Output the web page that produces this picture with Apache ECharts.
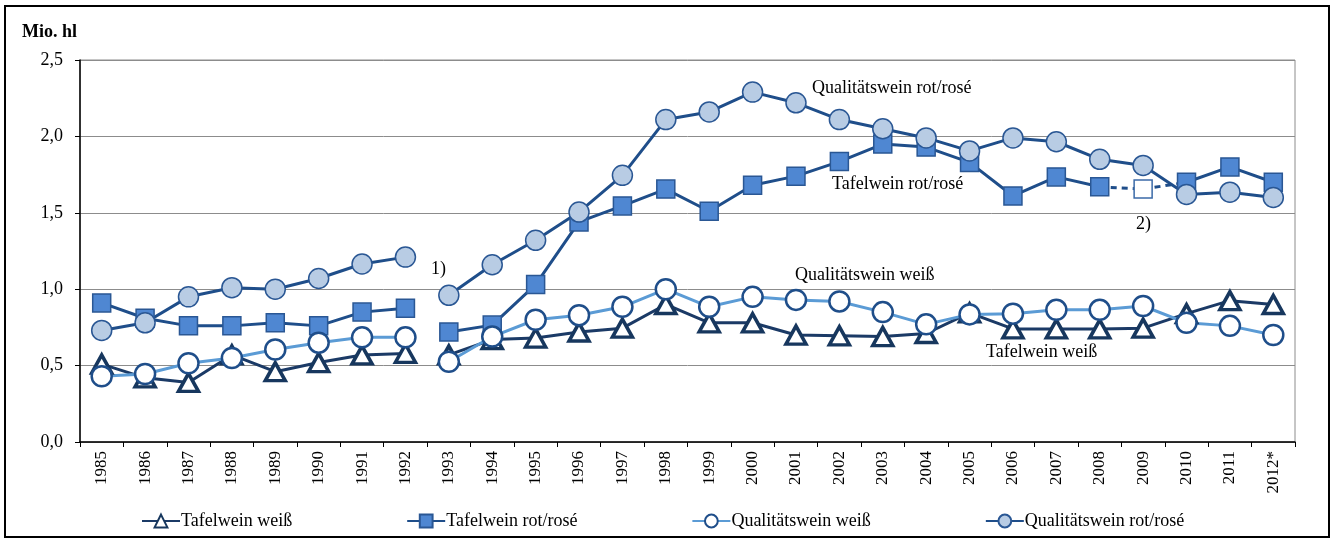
<!DOCTYPE html>
<html>
<head>
<meta charset="utf-8">
<script src="https://cdn.jsdelivr.net/npm/echarts@6/dist/echarts.min.js"></script>
<style>
  html, body { margin: 0; padding: 0; background: #fff; }
  #chart { width: 1333px; height: 541px; }
</style>
</head>
<body>
<div id="chart"></div>
<script>
// Jahre (1993: Bruch in der Reihe, 2012 vorläufig)
const years = ['1985','1986','1987','1988','1989','1990','1991','1992','1993','1994','1995','1996','1997','1998',
  '1999','2000','2001','2002','2003','2004','2005','2006','2007','2008','2009','2010','2011','2012*'];

const tafelWeiss = [0.51, 0.42, 0.39, 0.57, 0.46, 0.52, 0.57, 0.58, 0.57, 0.67, 0.68, 0.72, 0.745, 0.90,
  0.78, 0.78, 0.70, 0.695, 0.69, 0.71, 0.845, 0.74, 0.74, 0.74, 0.745, 0.84, 0.925, 0.90];
const tafelRot = [0.91, 0.81, 0.76, 0.76, 0.78, 0.76, 0.85, 0.875, 0.72, 0.765, 1.03, 1.44, 1.545, 1.655,
  1.51, 1.68, 1.74, 1.835, 1.95, 1.93, 1.83, 1.61, 1.735, 1.67, 1.655, 1.70, 1.80, 1.70];
const qualWeiss = [0.43, 0.445, 0.515, 0.55, 0.605, 0.65, 0.685, 0.685, 0.525, 0.69, 0.80, 0.83, 0.885, 1.0,
  0.885, 0.95, 0.93, 0.92, 0.85, 0.77, 0.835, 0.84, 0.865, 0.865, 0.89, 0.78, 0.76, 0.70];
const qualRot = [0.73, 0.78, 0.95, 1.01, 1.0, 1.07, 1.165, 1.21, 0.96, 1.16, 1.32, 1.505, 1.745, 2.11,
  2.16, 2.29, 2.22, 2.11, 2.05, 1.99, 1.905, 1.99, 1.965, 1.85, 1.81, 1.62, 1.635, 1.60];

const yTicks = [0, 0.5, 1.0, 1.5, 2.0, 2.5];

const serif = 'Liberation Serif';
const dark = '#1F4E8A';

// Teilstück einer Reihe (Lücke zwischen 1992 und 1993)
function seg(arr, from, to, skip) {
  return arr.map((v, i) => (i >= from && i <= to && i !== skip) ? v : '-');
}

const styles = {
  'Tafelwein weiß': {
    symbol: 'triangle', symbolSize: [20, 18],
    lineStyle: { color: '#1B3A66', width: 3 },
    itemStyle: { color: '#fff', borderColor: '#17375E', borderWidth: 3.5 }
  },
  'Tafelwein rot/rosé': {
    symbol: 'rect', symbolSize: 18,
    lineStyle: { color: dark, width: 3 },
    itemStyle: { color: '#4F87D2', borderColor: '#2A5794', borderWidth: 1.5 }
  },
  'Qualitätswein weiß': {
    symbol: 'circle', symbolSize: 20,
    lineStyle: { color: '#5B9BD5', width: 3 },
    itemStyle: { color: '#fff', borderColor: '#1F4E8A', borderWidth: 2.5 }
  },
  'Qualitätswein rot/rosé': {
    symbol: 'circle', symbolSize: 20,
    lineStyle: { color: dark, width: 3 },
    itemStyle: { color: '#B8CCE4', borderColor: '#2A5794', borderWidth: 1.5 }
  }
};

function line(name, data, extra) {
  return Object.assign({
    name: name, type: 'line', data: data, showAllSymbol: true,
    animation: false, connectNulls: false
  }, styles[name], extra || {});
}

const series = [
  // gestrichelte Verbindung 2008-2010 (Tafelwein rot/rosé, Anm. 2)
  {
    name: '2)', type: 'line', animation: false, z: 1,
    data: years.map((y, i) => {
      if (i === 23 || i === 25) return { value: tafelRot[i], symbol: 'none' };
      if (i === 24) return { value: tafelRot[i] };
      return '-';
    }),
    symbol: 'rect', symbolSize: 18,
    lineStyle: { color: dark, width: 3, type: [6, 5] },
    itemStyle: { color: '#fff', borderColor: '#3B6AA8', borderWidth: 1.5 }
  },
  line('Tafelwein weiß', seg(tafelWeiss, 0, 7)),
  line('Tafelwein weiß', seg(tafelWeiss, 8, 27)),
  line('Tafelwein rot/rosé', seg(tafelRot, 0, 7)),
  line('Tafelwein rot/rosé', seg(tafelRot, 8, 27, 24)),
  line('Qualitätswein weiß', seg(qualWeiss, 0, 7)),
  line('Qualitätswein weiß', seg(qualWeiss, 8, 27)),
  line('Qualitätswein rot/rosé', seg(qualRot, 0, 7)),
  line('Qualitätswein rot/rosé', seg(qualRot, 8, 27))
];

const note = (text, x, y) => ({
  type: 'text', left: x, top: y,
  style: { text: text, font: '18px "' + serif + '"', fill: '#000' }
});

const chart = echarts.init(document.getElementById('chart'));
chart.setOption({
  animation: false,
  textStyle: { fontFamily: serif },
  grid: { left: 80, right: 38, top: 60, bottom: 99, show: true, borderColor: '#8C8C8C', borderWidth: 1 },
  legend: {
    data: ['Tafelwein weiß', 'Tafelwein rot/rosé', 'Qualitätswein weiß', 'Qualitätswein rot/rosé'],
    left: 136, top: 507, itemGap: 114, itemWidth: 38, itemHeight: 16,
    textStyle: { fontFamily: serif, fontSize: 18, color: '#000', padding: [0, 0, 0, -4] },
    selectedMode: false
  },
  xAxis: {
    type: 'category', data: years, boundaryGap: true,
    axisLine: { lineStyle: { color: '#000', width: 1.5 } },
    axisTick: { show: true, length: 5, lineStyle: { color: '#000' } },
    axisLabel: { rotate: 90, interval: 0, fontFamily: serif, fontSize: 17, color: '#000', margin: 9 },
    splitLine: { show: false }
  },
  yAxis: {
    type: 'value', min: 0, max: 2.5, interval: 0.5,
    axisLine: { show: true, lineStyle: { color: '#000', width: 1.5 } },
    axisTick: { show: true, length: 5, lineStyle: { color: '#000' } },
    axisLabel: {
      fontFamily: serif, fontSize: 18, color: '#000', margin: 17,
      formatter: v => yTicks.includes(v) ? v.toFixed(1).replace('.', ',') : ''
    },
    splitLine: { lineStyle: { color: '#8C8C8C', width: 1 } }
  },
  graphic: [
    { type: 'rect', shape: { x: 5, y: 6, width: 1324, height: 531 },
      style: { fill: 'none', stroke: '#000', lineWidth: 2 }, silent: true },
    { type: 'text', left: 22, top: 23,
      style: { text: 'Mio. hl', font: 'bold 18px "' + serif + '"', fill: '#000' } },
    note('Qualitätswein rot/rosé', 812, 79),
    note('Tafelwein rot/rosé', 832, 175),
    note('2)', 1136, 215),
    note('1)', 431, 260),
    note('Qualitätswein weiß', 795, 266),
    note('Tafelwein weiß', 986, 343)
  ],
  series: series
});
</script>
</body>
</html>
